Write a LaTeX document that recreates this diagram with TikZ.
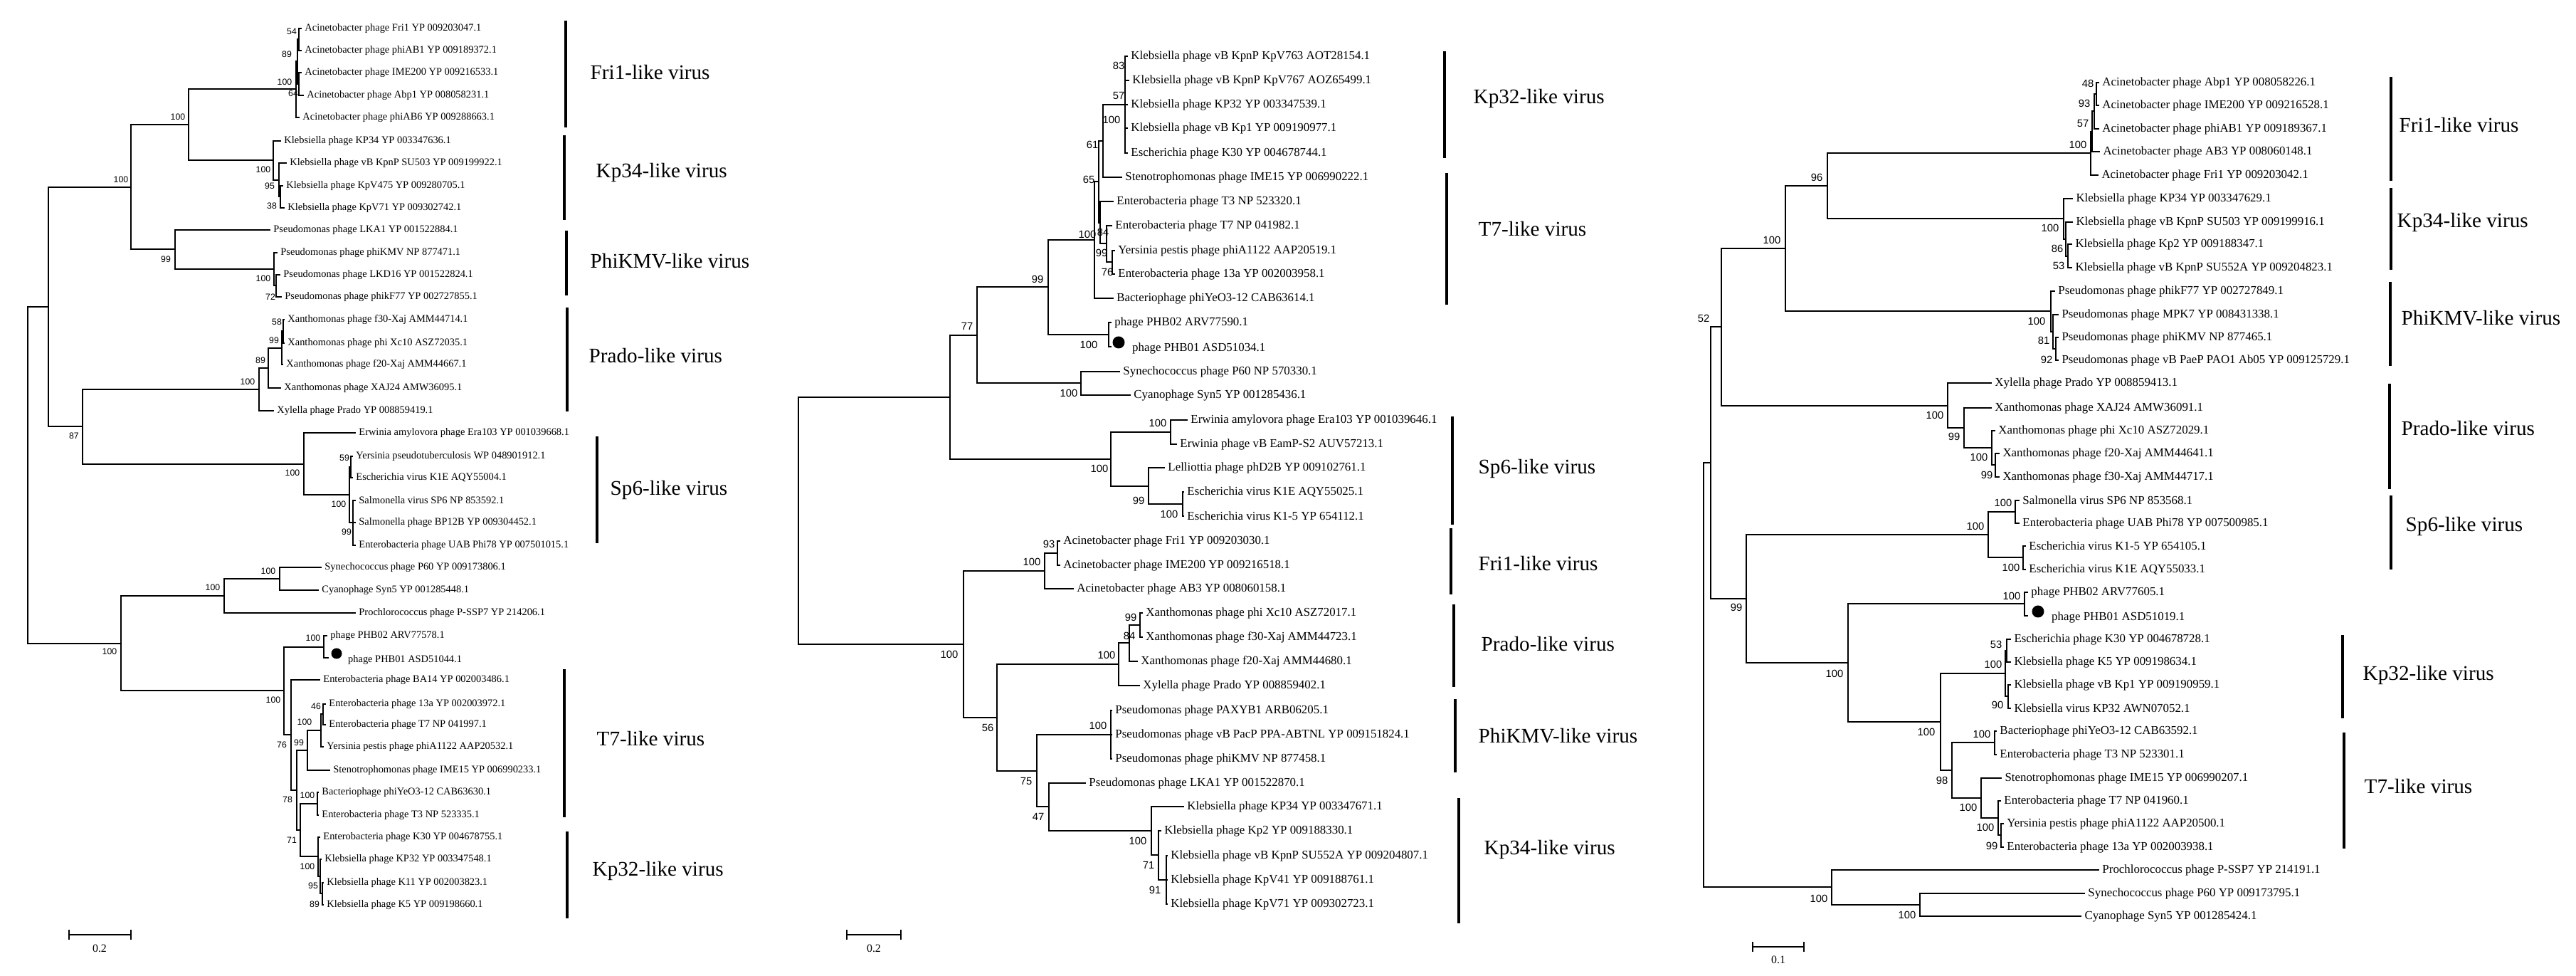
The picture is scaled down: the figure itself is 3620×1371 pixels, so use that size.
\documentclass[tikz,border=0pt]{standalone}
\usepackage{fontspec}
\setmainfont{Liberation Serif}
\newfontfamily\bsfont{Liberation Sans}
\begin{document}
\begin{tikzpicture}[x=0.01cm,y=-0.01cm]
\tikzset{br/.style={line width=0.55pt},
 leaf/.style={anchor=west,inner sep=0pt,xshift=0.035cm,font=\lfont},
 bsn/.style={inner sep=0pt,font=\bsfont\bsz},
 brk/.style={line width=1.1pt},
 clab/.style={anchor=west,inner sep=0pt,font=\fontsize{8.3}{9}\selectfont}}
\newcommand{\ed}[4]{\draw[br] (#1,#2) |- (#3,#4);}
\newcommand{\lv}[5]{\draw[br] (#1,#2) |- (#3,#4) node[leaf] {#5};}
\newcommand{\bs}[3]{\node[bsn] at (#1,#2) {#3};}
\newcommand{\brkt}[5]{\draw[brk] (#1,#2) -- (#1,#3); \node[clab] at (#4,#5) {\strut #1};}
\newcommand{\clu}[6]{\draw[brk] (#1,#2) -- (#1,#3); \node[clab] at (#4,#5) {#6};}
\useasboundingbox[fill=white] (0,0) rectangle (3620,1371);
% ================= TREE 1 =================
\def\lfont{\fontsize{4.1}{5}\selectfont}
\def\bsz{\fontsize{3.5}{4}\selectfont}
\ed{39}{667}{68}{431}\ed{39}{667}{170}{904}
\ed{68}{431}{184}{263}\ed{68}{431}{116}{599}
\ed{184}{263}{265}{175}\ed{184}{263}{246}{350}
\ed{265}{175}{416}{125}\ed{265}{175}{384}{225}
\ed{416}{125}{418}{86}\lv{416}{125}{421}{165}{Acinetobacter phage phiAB6 YP 009288663.1}
\ed{418}{86}{420}{55}\ed{418}{86}{420}{118}
\lv{420}{55}{424}{40}{Acinetobacter phage Fri1 YP 009203047.1}
\lv{420}{55}{424}{71}{Acinetobacter phage phiAB1 YP 009189372.1}
\lv{420}{118}{424}{102}{Acinetobacter phage IME200 YP 009216533.1}
\lv{420}{118}{427}{134}{Acinetobacter phage Abp1 YP 008058231.1}
\lv{384}{225}{395}{198}{Klebsiella phage KP34 YP 003347636.1}\ed{384}{225}{392}{253}
\lv{392}{253}{403}{229}{Klebsiella phage vB KpnP SU503 YP 009199922.1}\ed{392}{253}{394}{276}
\lv{394}{276}{398}{261}{Klebsiella phage KpV475 YP 009280705.1}
\lv{394}{276}{400}{292}{Klebsiella phage KpV71 YP 009302742.1}
\lv{246}{350}{380}{323}{Pseudomonas phage LKA1 YP 001522884.1}\ed{246}{350}{385}{378}
\lv{385}{378}{390}{355}{Pseudomonas phage phiKMV NP 877471.1}\ed{385}{378}{388}{401}
\lv{388}{401}{394}{386}{Pseudomonas phage LKD16 YP 001522824.1}
\lv{388}{401}{396}{417}{Pseudomonas phage phikF77 YP 002727855.1}
\ed{116}{599}{364}{547}\ed{116}{599}{427}{652}
\ed{364}{547}{377}{517}\lv{364}{547}{385}{577}{Xylella phage Prado YP 008859419.1}
\ed{377}{517}{396}{489}\lv{377}{517}{395}{545}{Xanthomonas phage XAJ24 AMW36095.1}
\ed{396}{489}{398}{465}\lv{396}{489}{398}{512}{Xanthomonas phage f20-Xaj AMM44667.1}
\lv{398}{465}{400}{449}{Xanthomonas phage f30-Xaj AMM44714.1}
\lv{398}{465}{400}{482}{Xanthomonas phage phi Xc10 ASZ72035.1}
\lv{427}{652}{500}{608}{Erwinia amylovora phage Era103 YP 001039668.1}\ed{427}{652}{491}{695}
\ed{491}{695}{493}{656}\ed{491}{695}{496}{734}
\lv{493}{656}{496}{641}{Yersinia pseudotuberculosis WP 048901912.1}
\lv{493}{656}{496}{671}{Escherichia virus K1E AQY55004.1}
\lv{496}{734}{500}{703}{Salmonella virus SP6 NP 853592.1}
\lv{496}{734}{500}{734}{Salmonella phage BP12B YP 009304452.1}
\lv{496}{734}{500}{766}{Enterobacteria phage UAB Phi78 YP 007501015.1}
\ed{170}{904}{315}{837}\ed{170}{904}{399}{970}
\ed{315}{837}{393}{813}\lv{315}{837}{500}{861}{Prochlorococcus phage P-SSP7 YP 214206.1}
\lv{393}{813}{452}{797}{Synechococcus phage P60 YP 009173806.1}
\lv{393}{813}{448}{829}{Cyanophage Syn5 YP 001285448.1}
\ed{399}{970}{455}{909}\ed{399}{970}{409}{1032}
\lv{455}{909}{460}{893}{phage PHB02 ARV77578.1}
\ed{455}{909}{462}{924}\fill (473,918) circle[radius=0.075cm];
\node[leaf,xshift=0pt] at (485,927) {phage PHB01 ASD51044.1};
\lv{409}{1032}{450}{955}{Enterobacteria phage BA14 YP 002003486.1}\ed{409}{1032}{417}{1110}
\ed{417}{1110}{432}{1054}\ed{417}{1110}{422}{1166}
\ed{432}{1054}{451}{1026}\lv{432}{1054}{464}{1082}{Stenotrophomonas phage IME15 YP 006990233.1}
\ed{451}{1026}{454}{1003}\lv{451}{1026}{455}{1049}{Yersinia pestis phage phiA1122 AAP20532.1}
\lv{454}{1003}{458}{989}{Enterobacteria phage 13a YP 002003972.1}
\lv{454}{1003}{458}{1018}{Enterobacteria phage T7 NP 041997.1}
\ed{422}{1166}{446}{1129}\ed{422}{1166}{447}{1203}
\lv{446}{1129}{448}{1113}{Bacteriophage phiYeO3-12 CAB63630.1}
\lv{446}{1129}{448}{1145}{Enterobacteria phage T3 NP 523335.1}
\lv{447}{1203}{450}{1176}{Enterobacteria phage K30 YP 004678755.1}\ed{447}{1203}{450}{1231}
\lv{450}{1231}{452}{1207}{Klebsiella phage KP32 YP 003347548.1}\ed{450}{1231}{453}{1255}
\lv{453}{1255}{455}{1240}{Klebsiella phage K11 YP 002003823.1}
\lv{453}{1255}{455}{1271}{Klebsiella phage K5 YP 009198660.1}
\bs{410}{44}{54}\bs{403}{76}{89}\bs{400}{115}{100}\bs{412}{131}{64}
\bs{250}{164}{100}\bs{170}{252}{100}\bs{370}{238}{100}\bs{379}{261}{95}\bs{382}{289}{38}
\bs{233}{364}{99}\bs{370}{391}{100}\bs{380}{417}{72}\bs{389}{452}{58}\bs{385}{478}{99}
\bs{366}{506}{89}\bs{348}{536}{100}\bs{104}{612}{87}\bs{484}{643}{59}\bs{411}{664}{100}
\bs{476}{708}{100}\bs{487}{747}{99}\bs{377}{802}{100}\bs{299}{825}{100}\bs{440}{896}{100}
\bs{154}{915}{100}\bs{384}{983}{100}\bs{444}{992}{46}\bs{428}{1014}{100}\bs{420}{1043}{99}
\bs{396}{1046}{76}\bs{432}{1117}{100}\bs{404}{1123}{78}\bs{410}{1180}{71}\bs{432}{1217}{100}
\bs{440}{1244}{95}\bs{442}{1270}{89}
\draw[br] (97,1313)--(184,1313); \draw[br] (97,1306)--(97,1320); \draw[br] (184,1306)--(184,1320);
\node[font=\fontsize{4.5}{5}\selectfont] at (140,1332) {0.2};
\clu{795}{29}{179}{829}{102}{Fri1-like virus}
\clu{793}{190}{309}{837}{242}{Kp34-like virus}
\clu{796}{324}{415}{829}{367}{PhiKMV-like virus}
\clu{797}{432}{578}{827}{500}{Prado-like virus}
\clu{839}{613}{763}{857}{688}{Sp6-like virus}
\clu{793}{940}{1148}{838}{1038}{T7-like virus}
\clu{797}{1168}{1290}{832}{1223}{Kp32-like virus}
% ================= TREE 2 =================
\def\lfont{\fontsize{4.8}{5.5}\selectfont}
\def\bsz{\fontsize{4.2}{5}\selectfont}
\ed{1122}{731}{1335}{558}\ed{1122}{731}{1354}{905}
\ed{1335}{558}{1373}{471}\ed{1335}{558}{1561}{645}
\ed{1373}{471}{1473}{403}\ed{1373}{471}{1519}{538}
\ed{1473}{403}{1538}{337}\ed{1473}{403}{1558}{470}
\ed{1538}{337}{1544}{255}\lv{1538}{337}{1565}{419}{Bacteriophage phiYeO3-12 CAB63614.1}
\ed{1544}{255}{1550}{198}\ed{1544}{255}{1546}{313}
\ed{1550}{198}{1581}{147}\lv{1550}{198}{1577}{249}{Stenotrophomonas phage IME15 YP 006990222.1}
\lv{1581}{147}{1585}{79}{Klebsiella phage vB KpnP KpV763 AOT28154.1}
\lv{1581}{147}{1587}{113}{Klebsiella phage vB KpnP KpV767 AOZ65499.1}
\lv{1581}{147}{1585}{147}{Klebsiella phage KP32 YP 003347539.1}
\lv{1581}{147}{1585}{180}{Klebsiella phage vB Kp1 YP 009190977.1}
\lv{1581}{147}{1585}{215}{Escherichia phage K30 YP 004678744.1}
\lv{1546}{313}{1565}{283}{Enterobacteria phage T3 NP 523320.1}\ed{1546}{313}{1555}{342}
\lv{1555}{342}{1563}{317}{Enterobacteria phage T7 NP 041982.1}\ed{1555}{342}{1563}{368}
\lv{1563}{368}{1567}{352}{Yersinia pestis phage phiA1122 AAP20519.1}
\lv{1563}{368}{1567}{385}{Enterobacteria phage 13a YP 002003958.1}
\lv{1558}{470}{1562}{453}{phage PHB02 ARV77590.1}
\ed{1558}{470}{1562}{487}\fill (1572,481) circle[radius=0.085cm];
\node[leaf,xshift=0pt] at (1587,489) {phage PHB01 ASD51034.1};
\lv{1519}{538}{1574}{522}{Synechococcus phage P60 NP 570330.1}
\lv{1519}{538}{1589}{555}{Cyanophage Syn5 YP 001285436.1}
\ed{1561}{645}{1645}{607}\ed{1561}{645}{1614}{683}
\lv{1645}{607}{1669}{590}{Erwinia amylovora phage Era103 YP 001039646.1}
\lv{1645}{607}{1654}{624}{Erwinia phage vB EamP-S2 AUV57213.1}
\lv{1614}{683}{1637}{657}{Lelliottia phage phD2B YP 009102761.1}\ed{1614}{683}{1662}{708}
\lv{1662}{708}{1664}{691}{Escherichia virus K1E AQY55025.1}
\lv{1662}{708}{1664}{725}{Escherichia virus K1-5 YP 654112.1}
\ed{1354}{905}{1468}{802}\ed{1354}{905}{1401}{1008}
\ed{1468}{802}{1486}{777}\lv{1468}{802}{1509}{827}{Acinetobacter phage AB3 YP 008060158.1}
\lv{1486}{777}{1490}{760}{Acinetobacter phage Fri1 YP 009203030.1}
\lv{1486}{777}{1490}{794}{Acinetobacter phage IME200 YP 009216518.1}
\ed{1401}{1008}{1572}{933}\ed{1401}{1008}{1457}{1083}
\ed{1572}{933}{1587}{903}\lv{1572}{933}{1602}{963}{Xylella phage Prado YP 008859402.1}
\ed{1587}{903}{1602}{878}\lv{1587}{903}{1599}{929}{Xanthomonas phage f20-Xaj AMM44680.1}
\lv{1602}{878}{1606}{861}{Xanthomonas phage phi Xc10 ASZ72017.1}
\lv{1602}{878}{1606}{895}{Xanthomonas phage f30-Xaj AMM44723.1}
\ed{1457}{1083}{1561}{1032}\ed{1457}{1083}{1474}{1133}
\lv{1561}{1032}{1563}{998}{Pseudomonas phage PAXYB1 ARB06205.1}
\lv{1561}{1032}{1563}{1032}{Pseudomonas phage vB PacP PPA-ABTNL YP 009151824.1}
\lv{1561}{1032}{1563}{1066}{Pseudomonas phage phiKMV NP 877458.1}
\lv{1474}{1133}{1526}{1100}{Pseudomonas phage LKA1 YP 001522870.1}\ed{1474}{1133}{1618}{1167}
\lv{1618}{1167}{1664}{1133}{Klebsiella phage KP34 YP 003347671.1}\ed{1618}{1167}{1628}{1201}
\lv{1628}{1201}{1632}{1167}{Klebsiella phage Kp2 YP 009188330.1}\ed{1628}{1201}{1639}{1236}
\lv{1639}{1236}{1641}{1202}{Klebsiella phage vB KpnP SU552A YP 009204807.1}
\lv{1639}{1236}{1641}{1236}{Klebsiella phage KpV41 YP 009188761.1}
\lv{1639}{1236}{1641}{1270}{Klebsiella phage KpV71 YP 009302723.1}
\bs{1572}{92}{83}\bs{1572}{135}{57}\bs{1562}{168}{100}\bs{1535}{203}{61}\bs{1530}{252}{65}
\bs{1528}{329}{100}\bs{1550}{326}{84}\bs{1548}{355}{99}\bs{1556}{382}{76}\bs{1458}{392}{99}
\bs{1359}{458}{77}\bs{1530}{484}{100}\bs{1502}{552}{100}\bs{1627}{594}{100}\bs{1545}{658}{100}
\bs{1600}{703}{99}\bs{1643}{722}{100}\bs{1474}{764}{93}\bs{1450}{789}{100}\bs{1334}{919}{100}
\bs{1589}{867}{99}\bs{1587}{893}{84}\bs{1555}{920}{100}\bs{1388}{1022}{56}\bs{1543}{1019}{100}
\bs{1442}{1097}{75}\bs{1459}{1147}{47}\bs{1599}{1181}{100}\bs{1614}{1215}{71}\bs{1623}{1250}{91}
\draw[br] (1190,1313)--(1266,1313); \draw[br] (1190,1306)--(1190,1320); \draw[br] (1266,1306)--(1266,1320);
\node[font=\fontsize{4.5}{5}\selectfont] at (1228,1332) {0.2};
\clu{2030}{72}{222}{2070}{138}{Kp32-like virus}
\clu{2033}{243}{428}{2077}{322}{T7-like virus}
\clu{2041}{585}{737}{2077}{658}{Sp6-like virus}
\clu{2039}{742}{835}{2077}{792}{Fri1-like virus}
\clu{2043}{849}{965}{2081}{905}{Prado-like virus}
\clu{2045}{982}{1085}{2077}{1034}{PhiKMV-like virus}
\clu{2050}{1121}{1297}{2085}{1193}{Kp34-like virus}
% ================= TREE 3 =================
\ed{2394}{948}{2404}{650}\ed{2394}{948}{2574}{1246}
\ed{2404}{650}{2419}{459}\ed{2404}{650}{2454}{841}
\ed{2419}{459}{2509}{349}\ed{2419}{459}{2737}{570}
\ed{2509}{349}{2568}{261}\ed{2509}{349}{2882}{437}
\ed{2568}{261}{2938}{215}\ed{2568}{261}{2900}{307}
\ed{2938}{215}{2940}{185}\lv{2938}{215}{2949}{246}{Acinetobacter phage Fri1 YP 009203042.1}
\ed{2940}{185}{2943}{156}\lv{2940}{185}{2951}{213}{Acinetobacter phage AB3 YP 008060148.1}
\ed{2943}{156}{2946}{132}\lv{2943}{156}{2950}{181}{Acinetobacter phage phiAB1 YP 009189367.1}
\lv{2946}{132}{2950}{116}{Acinetobacter phage Abp1 YP 008058226.1}
\lv{2946}{132}{2950}{148}{Acinetobacter phage IME200 YP 009216528.1}
\lv{2900}{307}{2913}{279}{Klebsiella phage KP34 YP 003347629.1}\ed{2900}{307}{2903}{336}
\lv{2903}{336}{2913}{312}{Klebsiella phage vB KpnP SU503 YP 009199916.1}\ed{2903}{336}{2906}{360}
\lv{2906}{360}{2912}{343}{Klebsiella phage Kp2 YP 009188347.1}
\lv{2906}{360}{2912}{376}{Klebsiella phage vB KpnP SU552A YP 009204823.1}
\lv{2882}{437}{2888}{409}{Pseudomonas phage phikF77 YP 002727849.1}\ed{2882}{437}{2885}{466}
\lv{2885}{466}{2893}{442}{Pseudomonas phage MPK7 YP 008431338.1}\ed{2885}{466}{2889}{490}
\lv{2889}{490}{2893}{474}{Pseudomonas phage phiKMV NP 877465.1}
\lv{2889}{490}{2893}{506}{Pseudomonas phage vB PaeP PAO1 Ab05 YP 009125729.1}
\lv{2737}{570}{2799}{538}{Xylella phage Prado YP 008859413.1}\ed{2737}{570}{2760}{601}
\lv{2760}{601}{2799}{573}{Xanthomonas phage XAJ24 AMW36091.1}\ed{2760}{601}{2799}{629}
\lv{2799}{629}{2804}{605}{Xanthomonas phage phi Xc10 ASZ72029.1}\ed{2799}{629}{2804}{653}
\lv{2804}{653}{2810}{637}{Xanthomonas phage f20-Xaj AMM44641.1}
\lv{2804}{653}{2810}{670}{Xanthomonas phage f30-Xaj AMM44717.1}
\ed{2454}{841}{2794}{751}\ed{2454}{841}{2597}{931}
\ed{2794}{751}{2832}{719}\ed{2794}{751}{2843}{783}
\lv{2832}{719}{2838}{703}{Salmonella virus SP6 NP 853568.1}
\lv{2832}{719}{2838}{735}{Enterobacteria phage UAB Phi78 YP 007500985.1}
\lv{2843}{783}{2847}{767}{Escherichia virus K1-5 YP 654105.1}
\lv{2843}{783}{2847}{800}{Escherichia virus K1E AQY55033.1}
\ed{2597}{931}{2845}{848}\ed{2597}{931}{2727}{1014}
\lv{2845}{848}{2850}{832}{phage PHB02 ARV77605.1}
\ed{2845}{848}{2850}{865}\fill (2864,859) circle[radius=0.085cm];
\node[leaf,xshift=0pt] at (2879,867) {phage PHB01 ASD51019.1};
\ed{2727}{1014}{2818}{946}\ed{2727}{1014}{2743}{1082}
\ed{2818}{946}{2820}{914}\ed{2818}{946}{2822}{978}
\lv{2820}{914}{2826}{898}{Escherichia phage K30 YP 004678728.1}
\lv{2820}{914}{2826}{930}{Klebsiella phage K5 YP 009198634.1}
\lv{2822}{978}{2826}{962}{Klebsiella phage vB Kp1 YP 009190959.1}
\lv{2822}{978}{2826}{995}{Klebsiella virus KP32 AWN07052.1}
\ed{2743}{1082}{2803}{1043}\ed{2743}{1082}{2784}{1121}
\lv{2803}{1043}{2806}{1027}{Bacteriophage phiYeO3-12 CAB63592.1}
\lv{2803}{1043}{2806}{1060}{Enterobacteria phage T3 NP 523301.1}
\lv{2784}{1121}{2813}{1093}{Stenotrophomonas phage IME15 YP 006990207.1}\ed{2784}{1121}{2808}{1149}
\lv{2808}{1149}{2812}{1125}{Enterobacteria phage T7 NP 041960.1}\ed{2808}{1149}{2812}{1173}
\lv{2812}{1173}{2816}{1157}{Yersinia pestis phage phiA1122 AAP20500.1}
\lv{2812}{1173}{2816}{1190}{Enterobacteria phage 13a YP 002003938.1}
\lv{2574}{1246}{2950}{1222}{Prochlorococcus phage P-SSP7 YP 214191.1}\ed{2574}{1246}{2698}{1271}
\lv{2698}{1271}{2930}{1255}{Synechococcus phage P60 YP 009173795.1}
\lv{2698}{1271}{2925}{1287}{Cyanophage Syn5 YP 001285424.1}
\bs{2934}{117}{48}\bs{2929}{145}{93}\bs{2927}{174}{57}\bs{2920}{203}{100}\bs{2553}{249}{96}
\bs{2490}{337}{100}\bs{2394}{447}{52}\bs{2881}{320}{100}\bs{2891}{349}{86}\bs{2893}{373}{53}
\bs{2862}{451}{100}\bs{2872}{478}{81}\bs{2876}{505}{92}\bs{2719}{583}{100}\bs{2746}{613}{99}
\bs{2781}{642}{100}\bs{2792}{667}{99}\bs{2815}{706}{100}\bs{2776}{739}{100}\bs{2826}{797}{100}
\bs{2440}{853}{99}\bs{2827}{837}{100}\bs{2805}{905}{53}\bs{2801}{933}{100}\bs{2807}{990}{90}
\bs{2578}{946}{100}\bs{2707}{1028}{100}\bs{2785}{1031}{100}\bs{2729}{1096}{98}\bs{2766}{1134}{100}
\bs{2790}{1162}{100}\bs{2799}{1188}{99}\bs{2556}{1262}{100}\bs{2680}{1285}{100}
\draw[br] (2463,1330)--(2535,1330); \draw[br] (2463,1323)--(2463,1337); \draw[br] (2535,1323)--(2535,1337);
\node[font=\fontsize{4.5}{5}\selectfont] at (2499,1348) {0.1};
\clu{3360}{108}{254}{3371}{176}{Fri1-like virus}
\clu{3360}{264}{379}{3368}{312}{Kp34-like virus}
\clu{3359}{396}{514}{3374}{447}{PhiKMV-like virus}
\clu{3358}{539}{687}{3374}{602}{Prado-like virus}
\clu{3360}{696}{800}{3380}{739}{Sp6-like virus}
\clu{3292}{892}{1009}{3320}{948}{Kp32-like virus}
\clu{3294}{1029}{1192}{3322}{1105}{T7-like virus}
\end{tikzpicture}
\end{document}
